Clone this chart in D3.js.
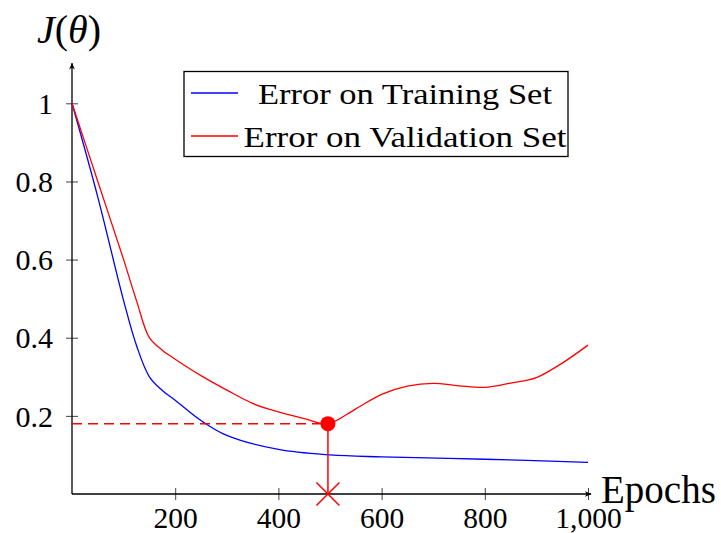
<!DOCTYPE html>
<html>
<head>
<meta charset="utf-8">
<script src="https://cdn.jsdelivr.net/npm/d3@7"></script>
<style>
  html, body { margin: 0; padding: 0; background: #fff; }
  svg { display: block; }
  text { font-family: "Liberation Serif", "DejaVu Serif", serif; fill: #000; }
</style>
</head>
<body>
<svg id="chart" width="721" height="533"></svg>
<script>
// ---- data ----
const seriesNames = ["Error on Training Set", "Error on Validation Set"];
const trainEpochs = [0, 50, 100, 125, 150, 175, 200, 250, 300, 400, 500, 600, 800, 1000];
const trainValues = [1, 0.76, 0.495, 0.38, 0.30, 0.265, 0.24, 0.188, 0.15, 0.114, 0.10, 0.095, 0.089, 0.081];
const validEpochs = [0, 50, 100, 125, 150, 175, 200, 250, 300, 350, 400, 450, 496, 550, 600, 650, 700, 750, 800, 850, 900, 950, 1000];
const validValues = [1, 0.80, 0.60, 0.495, 0.40, 0.368, 0.345, 0.303, 0.266, 0.232, 0.21, 0.193, 0.18, 0.218, 0.255, 0.276, 0.283, 0.277, 0.273, 0.284, 0.298, 0.335, 0.381];
const stopEpoch = [496];
const stopValue = [0.18];
const xTicks = [200, 400, 600, 800, 1000];
const yTicks = [0.2, 0.4, 0.6, 0.8, 1];
const xLabel = "Epochs";

// ---- layout ----
const svg = d3.select("#chart");
const x = d3.scaleLinear().domain([0, 1000]).range([72, 588]);
const y = d3.scaleLinear().domain([0, 1]).range([494, 103.3]);
const yTop = 1.1;

const defs = svg.append("defs");
defs.append("marker").attr("id", "arrow").attr("viewBox", "0 0 10 10")
  .attr("refX", 9).attr("refY", 5).attr("markerWidth", 7).attr("markerHeight", 7)
  .attr("markerUnits", "userSpaceOnUse").attr("orient", "auto")
  .append("path").attr("d", "M0,1 L10,5 L0,9 L3,5 Z").attr("fill", "#000");

// axes with crossing ticks
const xAxis = d3.axisBottom(x).tickValues(xTicks).tickSize(6).tickFormat(d3.format(","));
const gx = svg.append("g").attr("transform", `translate(0,${y(0)})`).call(xAxis);
gx.select(".domain").remove();
gx.selectAll(".tick line").attr("y1", -6).attr("y2", 6).attr("stroke", "#444").attr("stroke-width", 1);
gx.selectAll(".tick text").attr("y", 34).attr("dy", 0).style("font-size", "29.5px")
  .attr("font-family", "Liberation Serif");

const yAxis = d3.axisLeft(y).tickValues(yTicks).tickSize(6).tickFormat(d => d === 1 ? "1" : d3.format(".1f")(d));
const gy = svg.append("g").attr("transform", `translate(${x(0)},0)`).call(yAxis);
gy.select(".domain").remove();
gy.selectAll(".tick line").attr("x1", -6).attr("x2", 6).attr("stroke", "#444").attr("stroke-width", 1);
gy.selectAll(".tick text").attr("x", -19).attr("dy", "0.34em").style("font-size", "30px")
  .attr("font-family", "Liberation Serif");

// axis lines with arrows
svg.append("line").attr("x1", x(0)).attr("y1", y(0)).attr("x2", x(1000) + 3).attr("y2", y(0))
  .attr("stroke", "#000").attr("stroke-width", 1.3).attr("marker-end", "url(#arrow)");
svg.append("line").attr("x1", x(0)).attr("y1", y(0)).attr("x2", x(0)).attr("y2", y(yTop) - 1)
  .attr("stroke", "#000").attr("stroke-width", 1.3).attr("marker-end", "url(#arrow)");

// curves
const line = d3.line().x(d => x(d[0])).y(d => y(d[1])).curve(d3.curveCatmullRom.alpha(0.5));
const trainData = trainEpochs.map((e, i) => [e, trainValues[i]]);
const validData = validEpochs.map((e, i) => [e, validValues[i]]);
svg.append("path").datum(trainData).attr("d", line).attr("fill", "none")
  .attr("stroke", "#0000ff").attr("stroke-width", 1.3);
svg.append("path").datum(validData).attr("d", line).attr("fill", "none")
  .attr("stroke", "#ff0000").attr("stroke-width", 1.3);

// early stopping markers
const sx = x(stopEpoch[0]), sy = y(stopValue[0]);
svg.append("line").attr("x1", x(0)).attr("y1", sy).attr("x2", sx).attr("y2", sy)
  .attr("stroke", "#ff0000").attr("stroke-width", 1.5).attr("stroke-dasharray", "10,6");
svg.append("line").attr("x1", sx).attr("y1", sy).attr("x2", sx).attr("y2", y(0))
  .attr("stroke", "#ff0000").attr("stroke-width", 1.5);
svg.append("circle").attr("cx", sx).attr("cy", sy).attr("r", 7.5).attr("fill", "#ff0000");
const cs = 11.5;
svg.append("path").attr("d", `M${sx - cs},${y(0) - cs} L${sx + cs},${y(0) + cs} M${sx - cs},${y(0) + cs} L${sx + cs},${y(0) - cs}`)
  .attr("stroke", "#ff0000").attr("stroke-width", 1.5).attr("fill", "none");

// axis labels
svg.append("text").attr("x", 601).attr("y", 503).style("font-size", "39px").text(xLabel);
const jt = svg.append("text").attr("x", 37).attr("y", 43).style("font-size", "40px");
jt.append("tspan").style("font-style", "italic").text("J");
jt.append("tspan").text("(");
jt.append("tspan").style("font-style", "italic").text("θ");
jt.append("tspan").text(")");

// legend
const lg = svg.append("g");
lg.append("rect").attr("x", 184).attr("y", 71.5).attr("width", 384).attr("height", 85)
  .attr("fill", "#fff").attr("stroke", "#000").attr("stroke-width", 1.3);
const legendColors = ["#0000ff", "#ff0000"];
const legendRowY = [93, 136];
const legendWidths = [294, 323];
seriesNames.forEach((name, i) => {
  lg.append("line").attr("x1", 191).attr("x2", 238).attr("y1", legendRowY[i]).attr("y2", legendRowY[i])
    .attr("stroke", legendColors[i]).attr("stroke-width", 1.3);
  lg.append("text").attr("x", 405).attr("y", legendRowY[i]).attr("dy", "0.35em")
    .attr("text-anchor", "middle").style("font-size", "30px")
    .attr("textLength", legendWidths[i]).attr("lengthAdjust", "spacingAndGlyphs")
    .text(name);
});
</script>
</body>
</html>
